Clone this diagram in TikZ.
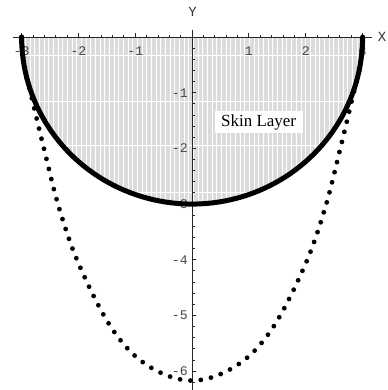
\documentclass[tikz,border=0pt]{standalone}
\usepackage{fontspec}
\setmainfont{Liberation Serif}
\newfontfamily\tickfont{Liberation Mono}
\usetikzlibrary{calc}

\begin{document}
\begin{tikzpicture}[x=1cm, y=0.98cm,
    ticklabel/.style={font=\tickfont\fontsize{6.6}{7}\selectfont, text=black!72, inner sep=0pt},
    axislabel/.style={font=\tickfont\fontsize{7}{8}\selectfont, text=black!80, inner sep=0pt},
    axisline/.style={line width=0.45pt, black!85},
    stripe/.style={white, line width=0.5pt},
    skinedge/.style={line width=2.5pt, line cap=round},
    dotcurve/.style={line width=2.4pt, line cap=round, dash pattern=on 0pt off 5.2pt}]
      \useasboundingbox (-3.380,0.664) rectangle (3.433,-6.338);

      % Skin layer: striped half disc
      \begin{scope}
        \clip plot[domain=180:360, samples=90] ({3*cos(\x)},{3*sin(\x)}) -- cycle;
        \fill[black!14] (-3,-3.1) rectangle (3,0);
        \foreach \k in {-9,...,64}
          \draw[stripe] ({-2.276+0.0822*\k},0) -- ++(0,-3.1);
        \foreach \h in {-0.33,-1.15,-1.95,-2.79}
          \draw[stripe] (-3,\h) -- (3,\h);
      \end{scope}

      % Axes
      \draw[axisline] (-3.16,0) -- (3.16,0);
      \draw[axisline] (0,0.126) -- (0,-6.4);

      % Ticks
      \foreach \k in {-15,...,15}
        \draw[axisline] ({\k/5},0) -- ++(0,1.2pt);
      \foreach \k in {-3,...,3}
        \draw[axisline] (\k,0) -- ++(0,2.2pt);
      \foreach \k in {1,...,31}
        \draw[axisline] (0,{-\k/5}) -- ++(1.2pt,0);
      \foreach \k in {1,...,6}
        \draw[axisline] (0,-\k) -- ++(2.2pt,0);

      % Tick labels
      \foreach \i/\n in {-3/m3,-2/m2,-1/m1,1/p1,2/p2,3/p3}
        \node[ticklabel] (xl\n) at (\i,-0.25) {\i};
      \foreach \i in {1,...,6}
        \node[ticklabel, anchor=east] (yl\i) at ([xshift=-2pt]0,-\i) {-\i};
      \node[axislabel] (ylab) at (0.01,0.443) {Y};
      \node[axislabel, anchor=east] (xlab) at (3.425,0) {X};

      % Dotted curve
      \draw[dotcurve] plot[smooth, tension=0.6] coordinates {(-3,0) (-2.95,-0.55) (-2.82,-1.10) (-2.61,-1.99) (-2.34,-3.07)
        (-1.98,-4.11) (-1.40,-5.25) (-0.78,-5.90) (0,-6.17)
        (0.78,-5.90) (1.40,-5.25) (1.98,-4.11) (2.34,-3.07) (2.61,-1.99) (2.82,-1.10) (2.95,-0.55) (3,0)};

      % Skin edge
      \draw[skinedge] plot[domain=180:360, samples=90] ({3*cos(\x)},{3*sin(\x)});

      \node[fill=white, inner xsep=3.3pt, inner ysep=1.6pt, font=\fontsize{8.5}{10}\selectfont] (skin) at (1.17,-1.53) {Skin Layer};
\end{tikzpicture}
\end{document}
